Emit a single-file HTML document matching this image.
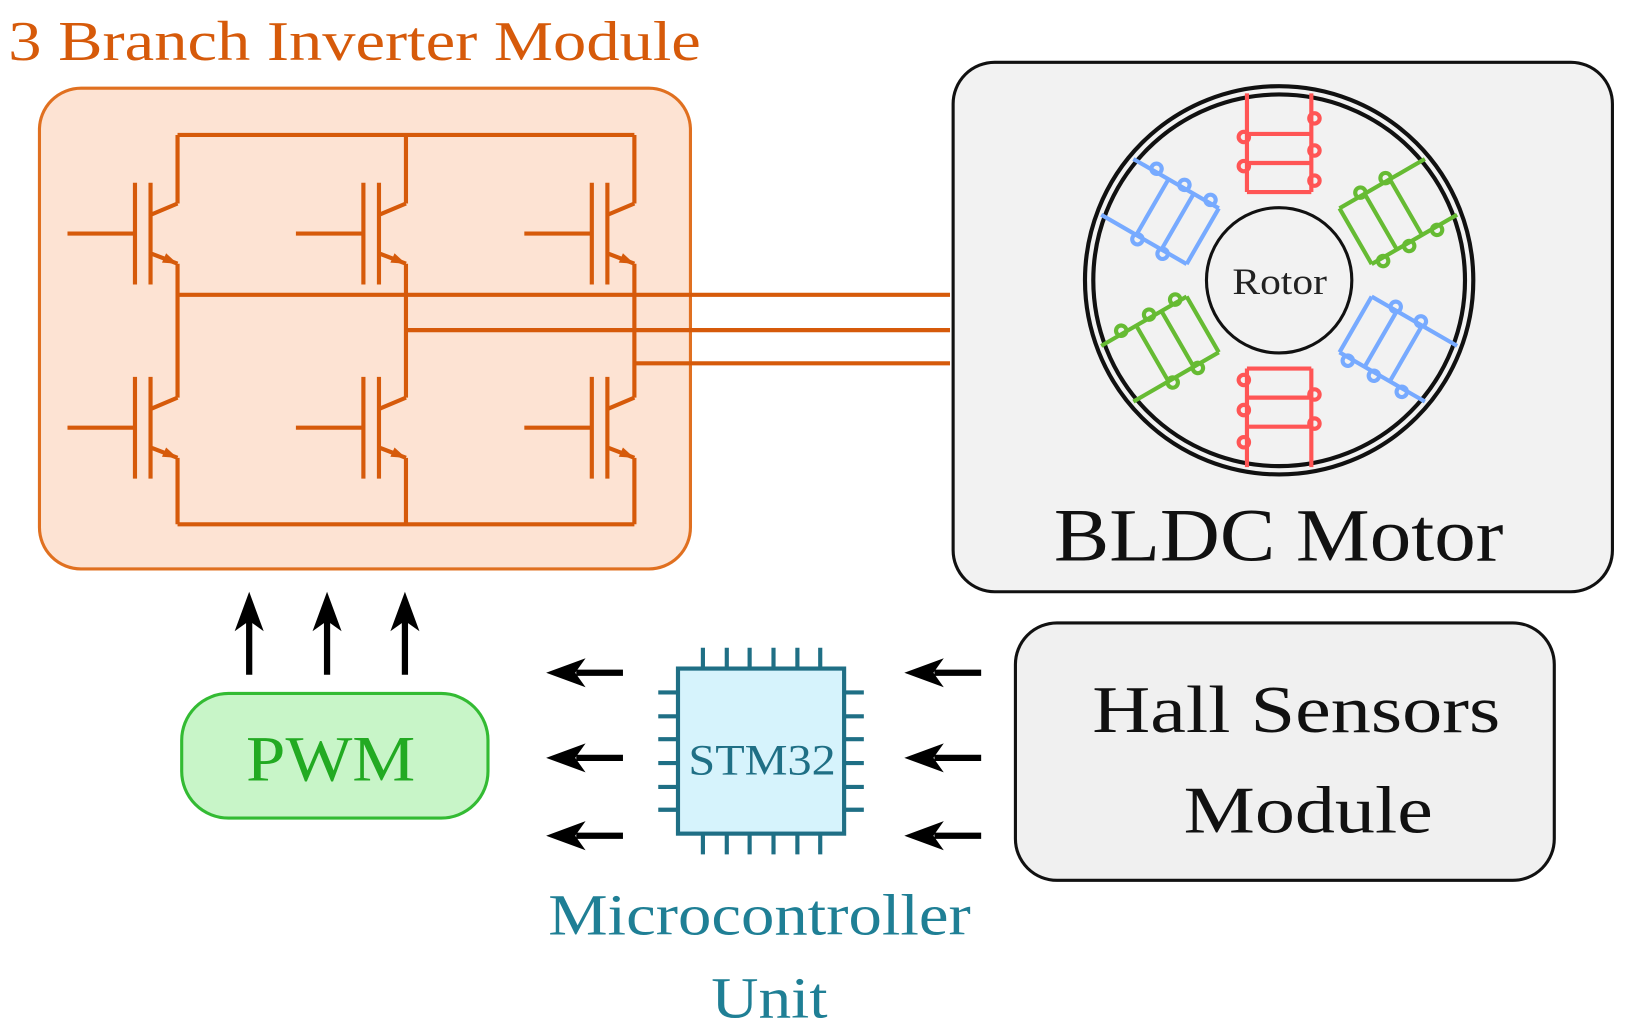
<!DOCTYPE html>
<html><head><meta charset="utf-8"><style>
html,body{margin:0;padding:0;background:#fff;}
svg{display:block;}
</style></head><body>
<svg width="1628" height="1034" viewBox="0 0 1568 996" preserveAspectRatio="none" xmlns="http://www.w3.org/2000/svg" font-family="'Liberation Serif', serif">
<defs>
<g id="tr">
  <path d="M-65,0 H0 M0,-49 V49 M15,-49 V49 M15,-18 L41,-29 M15,19 L41,29" stroke="#d65a0a" stroke-width="4" fill="none"/>
  <path d="M41,29 L30,19 L26,28 Z" fill="#d65a0a"/>
</g>
<g id="coil" fill="none" stroke-width="4">
  <path d="M-31,-85 V-168 M31,-85 V-168 M-31,-85 H31 M-31,-113 H31 M-31,-141 H31 M-31,-168 V-180 M31,-168 V-180"/>
  <circle cx="-34" cy="-110" r="5"/><circle cx="-34" cy="-138" r="5"/>
  <circle cx="34" cy="-96" r="5"/><circle cx="34" cy="-125" r="5"/><circle cx="34" cy="-156" r="5"/>
</g>
</defs>
<text x="8" y="58" font-size="54" fill="#d65a0a" textLength="667" lengthAdjust="spacingAndGlyphs">3 Branch Inverter Module</text>
<rect x="38" y="85" width="627" height="463" rx="40" fill="#fde3d3" stroke="#e07020" stroke-width="3"/>
<g stroke="#d65a0a" stroke-width="4" fill="none">
  <path d="M171,130 H611"/>
  <path d="M171,505 H611"/>
  <path d="M171,130 V196 M391,130 V196 M611,130 V196"/>
  <path d="M171,254 V383 M391,254 V383 M611,254 V383"/>
  <path d="M171,441 V505 M391,441 V505 M611,441 V505"/>
  <path d="M171,284 H915 M391,318 H915 M611,350 H915"/>
</g>
<use href="#tr" x="130" y="225"/>
<use href="#tr" x="350" y="225"/>
<use href="#tr" x="570" y="225"/>
<use href="#tr" x="130" y="412"/>
<use href="#tr" x="350" y="412"/>
<use href="#tr" x="570" y="412"/>

<rect x="918" y="60" width="635" height="510" rx="40" fill="#f2f2f2" stroke="#111" stroke-width="3"/>
<circle cx="1232" cy="270" r="187" fill="none" stroke="#111" stroke-width="4"/>
<circle cx="1232" cy="270" r="179" fill="none" stroke="#111" stroke-width="4"/>
<circle cx="1232" cy="270" r="70" fill="none" stroke="#111" stroke-width="3"/>
<text x="1187" y="283" font-size="36" fill="#222" textLength="91" lengthAdjust="spacingAndGlyphs">Rotor</text>
<g transform="translate(1232,270)">
  <use href="#coil" stroke="#ff5555"/>
  <use href="#coil" stroke="#66bb33" transform="rotate(60)"/>
  <use href="#coil" stroke="#77aaff" transform="rotate(120)"/>
  <use href="#coil" stroke="#ff5555" transform="rotate(180)"/>
  <use href="#coil" stroke="#66bb33" transform="rotate(240)"/>
  <use href="#coil" stroke="#77aaff" transform="rotate(300)"/>
</g>
<text x="1015" y="540" font-size="72" fill="#111" textLength="433" lengthAdjust="spacingAndGlyphs">BLDC Motor</text>

<g stroke="#000" stroke-width="6" fill="none">
  <path d="M240,650 V595 M315,650 V595 M390,650 V595"/>
  <path d="M600,648 H555 M600,730 H555 M600,805 H555"/>
  <path d="M945,648 H900 M945,730 H900 M945,805 H900"/>
</g>
<g fill="#000">
  <path d="M240,570 L226,608 L240,598 L254,608 Z"/>
  <path d="M315,570 L301,608 L315,598 L329,608 Z"/>
  <path d="M390,570 L376,608 L390,598 L404,608 Z"/>
  <path d="M526,648 L564,634 L554,648 L564,662 Z"/>
  <path d="M526,730 L564,716 L554,730 L564,744 Z"/>
  <path d="M526,805 L564,791 L554,805 L564,819 Z"/>
  <path d="M871,648 L909,634 L899,648 L909,662 Z"/>
  <path d="M871,730 L909,716 L899,730 L909,744 Z"/>
  <path d="M871,805 L909,791 L899,805 L909,819 Z"/>
</g>

<rect x="175" y="668" width="295" height="120" rx="45" fill="#c8f5c8" stroke="#33bb33" stroke-width="3"/>
<text x="237" y="752" font-size="62" fill="#22aa22" textLength="163" lengthAdjust="spacingAndGlyphs">PWM</text>

<g stroke="#1f6f85" stroke-width="4">
  <path d="M677,624 V644 M700,624 V644 M722,624 V644 M745,624 V644 M768,624 V644 M790,624 V644"/>
  <path d="M677,803 V823 M700,803 V823 M722,803 V823 M745,803 V823 M768,803 V823 M790,803 V823"/>
  <path d="M634,667 H653 M634,690 H653 M634,712 H653 M634,735 H653 M634,758 H653 M634,780 H653"/>
  <path d="M813,667 H832 M813,690 H832 M813,712 H832 M813,735 H832 M813,758 H832 M813,780 H832"/>
</g>
<rect x="653" y="644" width="160" height="159" fill="#d6f3fc" stroke="#1f6f85" stroke-width="4"/>
<text x="663" y="746" font-size="42" fill="#1f6f85" textLength="142" lengthAdjust="spacingAndGlyphs">STM32</text>
<text x="528" y="900" font-size="56" fill="#1f7f95" textLength="407" lengthAdjust="spacingAndGlyphs">Microcontroller</text>
<text x="685" y="980" font-size="56" fill="#1f7f95" textLength="112" lengthAdjust="spacingAndGlyphs">Unit</text>

<rect x="978" y="600" width="519" height="248" rx="40" fill="#f0f0f0" stroke="#111" stroke-width="3"/>
<text x="1052" y="705" font-size="64" fill="#111" textLength="393" lengthAdjust="spacingAndGlyphs">Hall Sensors</text>
<text x="1140" y="802" font-size="64" fill="#111" textLength="240" lengthAdjust="spacingAndGlyphs">Module</text>
</svg>
</body></html>
